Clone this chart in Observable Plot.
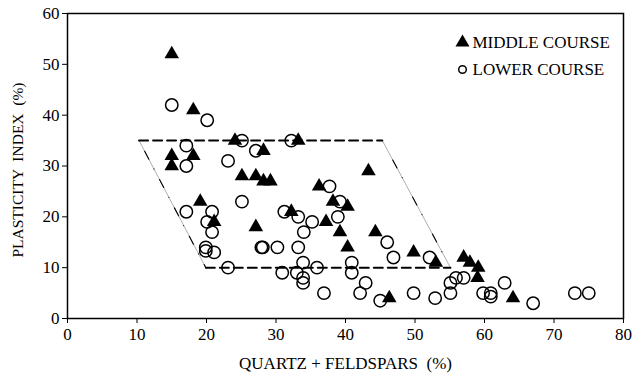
<!DOCTYPE html>
<html>
<head>
<meta charset="utf-8">
<script src="https://cdn.jsdelivr.net/npm/d3@7"></script>
<script src="https://cdn.jsdelivr.net/npm/@observablehq/plot@0.6"></script>
<style>
  body { margin: 0; background: #fff; }
  #chart svg { display: block; font-family: 'Liberation Serif', 'Times New Roman', serif; font-weight: normal; }
</style>
</head>
<body>
<div id="chart"></div>
<script>
const xTicks = [0, 10, 20, 30, 40, 50, 60, 70, 80];
const yTicks = [0, 10, 20, 30, 40, 50, 60];

const middleX = [15, 18.1, 15, 15, 18.1, 24.1, 33.2, 28.2, 25.1, 27.1, 28.2, 29.2, 43.3, 36.2, 38.2, 40.3, 32.2, 27.1, 37.2, 39.2, 40.3, 44.3, 49.8, 53, 46.3, 57, 57.9, 59.1, 59, 64.1, 19.1, 21.1];
const middleY = [52, 41, 32, 30, 32, 35, 35, 33, 28, 28, 27, 27, 29, 26, 23, 22, 21, 18, 19, 17, 14, 17, 13, 11, 4, 12, 11, 10, 8, 4, 23, 19];

const lowerX = [15, 20.1, 17.1, 17.1, 23.1, 25.1, 27.1, 32.2, 37.7, 39.2, 38.9, 25.1, 31.2, 33.2, 35.2, 34, 28.1, 30.2, 33.2, 33.9, 35.9, 30.9, 33, 33.9, 33.9, 36.9, 40.9, 40.9, 42.9, 42.1, 45, 46, 46.9, 49.8, 52.1, 52.9, 55.1, 55.1, 55.9, 57, 59.8, 60.9, 60.9, 62.9, 67, 73, 75, 17.1, 20.8, 20.1, 20.8, 19.9, 19.9, 21.1, 23.1, 27.9];
const lowerY = [42, 39, 34, 30, 31, 35, 33, 35, 26, 23, 20, 23, 21, 20, 19, 17, 14, 14, 14, 11, 10, 9, 9, 8, 7, 5, 11, 9, 7, 5, 3.5, 15, 12, 5, 12, 4, 7, 5, 8, 8, 5, 5, 4.3, 7, 3, 5, 5, 21, 21, 19, 17, 14, 13.3, 13, 10, 14];

const zoneX = [10.3, 45.3, 55.1, 19.9];
const zoneY = [35, 35, 10, 10];

const middle = middleX.map((x, i) => ({x, y: middleY[i]}));
const lower = lowerX.map((x, i) => ({x, y: lowerY[i]}));
const zone = zoneX.map((x, i) => ({x, y: zoneY[i]}));
const topEdge = [zone[0], zone[1]];
const bottomEdge = [zone[3], zone[2]];
const leftEdge = [zone[0], zone[3]];
const rightEdge = [zone[1], zone[2]];

const font = "'Liberation Serif', 'Times New Roman', serif";

const chart = Plot.plot({
  width: 633,
  height: 375,
  marginLeft: 67,
  marginRight: 10,
  marginTop: 13,
  marginBottom: 57,
  style: {fontFamily: font, fontSize: "17px", color: "#000", background: "#fff"},
  x: {domain: [0, 80], label: null},
  y: {domain: [0, 60], label: null},
  marks: [
    Plot.frame({stroke: "#000", strokeWidth: 1.5}),
    Plot.axisX({ticks: xTicks, tickSize: 5, tickPadding: 4, fontSize: 17, label: null}),
    Plot.axisY({ticks: yTicks, tickSize: 5, tickPadding: 3, fontSize: 17, label: null}),
    Plot.text(["QUARTZ + FELDSPARS  (%)"], {frameAnchor: "bottom", dy: 45, lineAnchor: "middle", textAnchor: "middle", fontSize: 17, fill: "#000"}),
    Plot.text(["PLASTICITY  INDEX  (%)"], {frameAnchor: "left", dx: -49, dy: 4, rotate: -90, textAnchor: "middle", lineAnchor: "middle", fontSize: 15.5, fill: "#000"}),
    Plot.line(leftEdge, {x: "x", y: "y", stroke: "#999", strokeWidth: 0.8}),
    Plot.line(rightEdge, {x: "x", y: "y", stroke: "#999", strokeWidth: 0.8}),
    Plot.line(leftEdge, {x: "x", y: "y", stroke: "#000", strokeWidth: 1.1, strokeDasharray: "0,12,9,11"}),
    Plot.line(rightEdge, {x: "x", y: "y", stroke: "#000", strokeWidth: 1.1, strokeDasharray: "0,22,9,11"}),
    Plot.line(topEdge, {x: "x", y: "y", stroke: "#000", strokeWidth: 2, strokeDasharray: "9,5"}),
    Plot.line(bottomEdge, {x: "x", y: "y", stroke: "#000", strokeWidth: 2, strokeDasharray: "9,5"}),
    Plot.dot(lower, {x: "x", y: "y", r: 6.2, stroke: "#000", strokeWidth: 1.5, fill: "none"}),
    Plot.dot(middle, {x: "x", y: "y", symbol: "triangle", r: 5.4, fill: "#000", stroke: "none"}),
    Plot.dot([0], {frameAnchor: "top-right", dx: -161, dy: 29, symbol: "triangle", r: 5.2, fill: "#000"}),
    Plot.dot([0], {frameAnchor: "top-right", dx: -161, dy: 56, r: 3.8, stroke: "#000", strokeWidth: 1.5, fill: "none"}),
    Plot.text(["MIDDLE COURSE"], {frameAnchor: "top-right", dx: -151, dy: 29, textAnchor: "start", lineAnchor: "middle", fontSize: 17, fill: "#000"}),
    Plot.text(["LOWER COURSE"], {frameAnchor: "top-right", dx: -151, dy: 56, textAnchor: "start", lineAnchor: "middle", fontSize: 17, fill: "#000"})
  ]
});
document.getElementById("chart").appendChild(chart);
</script>
</body>
</html>
